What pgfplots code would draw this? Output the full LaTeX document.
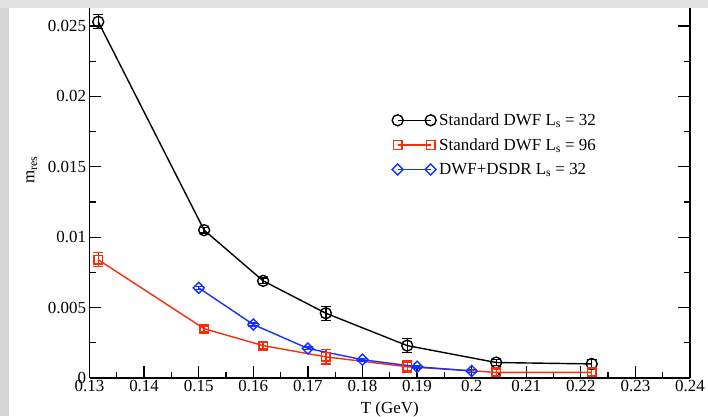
\documentclass[border=0pt]{standalone}
\usepackage{fontspec}
\setmainfont{Liberation Serif}
\usepackage{pgfplots}
\pgfplotsset{compat=1.18}
\definecolor{gred}{RGB}{250,45,10}
\definecolor{gblue}{RGB}{20,50,255}
\definecolor{lgray}{RGB}{214,214,214}
\definecolor{tgray}{RGB}{226,226,226}
\begin{document}
\begin{tikzpicture}[x=1bp,y=1bp]
\useasboundingbox (0,0) rectangle (708,416);
\clip (0,0) rectangle (708,416);
\fill[white] (0,0) rectangle (708,416);
\begin{axis}[
  scale only axis,
  width=600.5bp, height=373.12bp,
  at={(89.5bp,38bp)}, anchor=south west,
  xmin=0.13, xmax=0.24, ymin=0, ymax=0.0265,
  axis x line*=bottom, axis y line*=box,
  xtick pos=lower, ytick pos=both,
  xtick={0.13,0.14,...,0.245},
  xticklabels={0.13,0.14,0.15,0.16,0.17,0.18,0.19,0.2,0.21,0.22,0.23,0.24},
  ytick={0,0.005,0.01,0.015,0.02,0.025},
  yticklabels={0,0.005,0.01,0.015,0.02,0.025},
  minor x tick num=1, minor y tick num=1,
  tick align=inside,
  major tick length=12bp, minor tick length=6bp,
  every tick/.style={black, line width=1.3bp},
  axis line style={line width=1.8bp},
  scaled y ticks=false, scaled x ticks=false,
  /pgf/number format/assume math mode=true,
  font=\fontsize{17}{20}\selectfont,
  xticklabel style={yshift=1.5bp},
  xlabel={T (GeV)},
  xlabel style={at={(axis description cs:0.5,0)}, anchor=base, yshift=-35bp},
  ylabel={m\textsubscript{res}},
  ylabel style={at={(axis description cs:-0.0916,0.557)}, anchor=base, rotate=0},
  legend style={draw=none, fill=none, at={(axis description cs:0.5037,0.713)}, anchor=north west,
    font=\fontsize{17}{20}\selectfont, row sep=8.5bp, inner sep=0pt,
    nodes={inner sep=1.5bp},
    /tikz/every odd column/.append style={column sep=1.5bp}},
  legend cell align=left,
  legend image code/.code={\draw[#1] plot coordinates {(0bp,0bp) (33bp,0bp)};},
  error bars/error bar style={line width=1.3bp},
  error bars/error mark options={rotate=90, mark size=5bp, line width=1.3bp},
]
\addplot[black, line width=1.4bp, mark=o, mark size=5.5bp, mark options={line width=1.4bp},
  error bars/.cd, y dir=both, y explicit] table[y error index=2] {
0.1316 0.0253 0.0005
0.1510 0.0105 0.0002
0.1618 0.0069 0.0002
0.1733 0.0046 0.0005
0.1882 0.0023 0.0005
0.2045 0.0011 0.0002
0.2220 0.0010 0.0003
};
\addlegendentry{Standard DWF L\textsubscript{s} = 32}
\addplot[gred, line width=1.4bp, mark=square, mark size=4.3bp, mark options={line width=1.4bp},
  error bars/.cd, y dir=both, y explicit] table[y error index=2] {
0.1316 0.0084 0.0005
0.1510 0.0035 0.0002
0.1618 0.0023 0.0002
0.1733 0.0015 0.0005
0.1882 0.0008 0.0004
0.2045 0.0004 0.0002
0.2220 0.0004 0.0002
};
\addlegendentry{Standard DWF L\textsubscript{s} = 96}
\addplot[gblue, line width=1.4bp, mark=square, mark size=3.9bp, mark options={line width=1.4bp, rotate=45},
  error bars/.cd, y dir=both, y explicit] table[y error index=2] {
0.150 0.0064 0.0001
0.160 0.0038 0.0001
0.170 0.0021 0.0001
0.180 0.0013 0.0001
0.190 0.0008 0.0001
0.200 0.0005 0.0001
};
\addlegendentry{DWF+DSDR L\textsubscript{s} = 32}
\end{axis}
\fill[lgray] (0,0) rectangle (8.5,416);
\fill[tgray] (0,407.5) rectangle (708,416);
\end{tikzpicture}
\end{document}
